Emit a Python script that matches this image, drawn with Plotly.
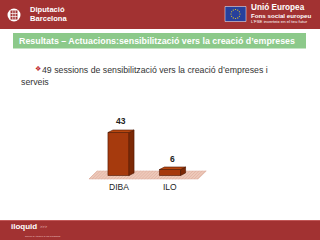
import math
import plotly.graph_objects as go

# ---- data ----
categories = ["DIBA", "ILO"]
values = [43, 6]
value_labels = ["43", "6"]

title_text = "Resultats – Actuacions:sensibilització vers la creació d’empreses"
bullet_line1 = "49 sessions de sensibilització vers la creació d’empreses i"
bullet_line2 = "serveis"

# ---- style ----
W, H = 320, 240
RED = "#A23232"
GREEN = "#8CC98A"
FRONT = "#A63A0D"
SIDE = "#7C2906"
TOP = "#B8470F"
EDGE = "#4E1500"
FONT = "Arial, 'Liberation Sans', sans-serif"

BAR_W = 0.41
DX, DY = 0.097, 2.5


def px(x):
    return x / W


def py(y):
    return 1 - y / H


fig = go.Figure()
xs = list(range(len(categories)))

# front faces
fig.add_trace(go.Bar(x=xs, y=values, width=BAR_W, marker=dict(color=FRONT, line=dict(color=EDGE, width=0.6)),
                     hoverinfo="skip", showlegend=False))

# side and top faces (3D look) computed from data
sx, sy, tx, ty = [], [], [], []
for i, v in zip(xs, values):
    r = i + BAR_W / 2
    l = i - BAR_W / 2
    sx += [r, r + DX, r + DX, r, r, None]
    sy += [0, DY, v + DY, v, 0, None]
    tx += [l, l + DX, r + DX, r, l, None]
    ty += [v, v + DY, v + DY, v, v, None]
fig.add_trace(go.Scatter(x=sx, y=sy, fill="toself", fillcolor=SIDE, mode="lines",
                         line=dict(color=EDGE, width=0.6), hoverinfo="skip", showlegend=False))
fig.add_trace(go.Scatter(x=tx, y=ty, fill="toself", fillcolor=TOP, mode="lines",
                         line=dict(color=EDGE, width=0.6), hoverinfo="skip", showlegend=False))

shapes = []
annotations = []

# floor (behind bars)
fl, fr = xs[0] - 0.573, xs[-1] + 0.544
fshift = 0.16
shapes.append(dict(type="path", xref="x", yref="y", layer="below",
                   path=f"M {fl},-3.5 L {fr},-3.5 L {fr + fshift},4.5 L {fl + fshift},4.5 Z",
                   fillcolor="#EDC9BA", line=dict(color="#D9A898", width=0.5)))
# hatch lines on floor
k = fl
while k < fr:
    shapes.append(dict(type="line", xref="x", yref="y", layer="below",
                       x0=k, y0=-3.5, x1=k + fshift, y1=4.5, line=dict(color="#DDAA98", width=0.6)))
    k += 0.06

# value labels and category labels
for i, v, lab, cat in zip(xs, values, value_labels, categories):
    annotations.append(dict(x=i + DX / 2, y=v + DY + 8.5, xref="x", yref="y", text=f"<b>{lab}</b>",
                            showarrow=False, font=dict(family=FONT, size=8.5, color="#222")))
    annotations.append(dict(x=i, y=-11.5, xref="x", yref="y", text=cat,
                            showarrow=False, font=dict(family=FONT, size=8.5, color="#222")))

# header
shapes.append(dict(type="rect", xref="paper", yref="paper", x0=0, x1=1, y0=py(29), y1=1,
                   fillcolor=RED, line=dict(width=0), layer="below"))
shapes.append(dict(type="circle", xref="paper", yref="paper", x0=px(7.5), x1=px(20.5), y0=py(21.5), y1=py(8.5),
                   fillcolor="white", line=dict(width=0)))
shapes.append(dict(type="rect", xref="paper", yref="paper", x0=px(10.5), x1=px(17.5), y0=py(19.5), y1=py(10.5),
                   fillcolor=RED, line=dict(width=0)))
for gx in (12.8, 15.2):
    shapes.append(dict(type="line", xref="paper", yref="paper", x0=px(gx), x1=px(gx), y0=py(19.5), y1=py(10.5),
                       line=dict(color="white", width=0.7)))
for gy in (13.5, 16.5):
    shapes.append(dict(type="line", xref="paper", yref="paper", x0=px(10.5), x1=px(17.5), y0=py(gy), y1=py(gy),
                       line=dict(color="white", width=0.7)))
annotations.append(dict(x=px(28), y=py(10), xref="paper", yref="paper", xanchor="left", yanchor="middle",
                        text="<b>Diputació</b>", showarrow=False, font=dict(family=FONT, size=7.6, color="white")))
annotations.append(dict(x=px(28), y=py(19), xref="paper", yref="paper", xanchor="left", yanchor="middle",
                        text="<b>Barcelona</b>", showarrow=False, font=dict(family=FONT, size=7.6, color="white")))

# EU flag
shapes.append(dict(type="rect", xref="paper", yref="paper", x0=px(225), x1=px(246), y0=py(21.5), y1=py(6.5),
                   fillcolor="#27409C", line=dict(color="white", width=0.5)))
cx, cy, rr = 235.5, 14, 4.5
for s in range(12):
    a = 2 * math.pi * s / 12
    sxp, syp = cx + rr * math.cos(a), cy + rr * math.sin(a)
    shapes.append(dict(type="circle", xref="paper", yref="paper", x0=px(sxp - 0.6), x1=px(sxp + 0.6),
                       y0=py(syp + 0.6), y1=py(syp - 0.6), fillcolor="#F4D21E", line=dict(width=0)))
annotations.append(dict(x=px(249), y=py(8), xref="paper", yref="paper", xanchor="left", yanchor="middle",
                        text="<b>Unió Europea</b>", showarrow=False, font=dict(family=FONT, size=8.2, color="white")))
annotations.append(dict(x=px(249), y=py(16), xref="paper", yref="paper", xanchor="left", yanchor="middle",
                        text="<b>Fons social europeu</b>", showarrow=False, font=dict(family=FONT, size=6.2, color="white")))
annotations.append(dict(x=px(249), y=py(21.5), xref="paper", yref="paper", xanchor="left", yanchor="middle",
                        text="L’FSE inverteix en el teu futur", showarrow=False, font=dict(family=FONT, size=4.3, color="white")))

# green title box
shapes.append(dict(type="rect", xref="paper", yref="paper", x0=px(13), x1=px(306), y0=py(48.5), y1=py(33),
                   fillcolor=GREEN, line=dict(width=0), layer="below"))
annotations.append(dict(x=px(17), y=py(41), xref="paper", yref="paper", xanchor="left", yanchor="middle",
                        text=f"<b>{title_text}</b>", showarrow=False, font=dict(family=FONT, size=8.85, color="white")))

# bullet text
annotations.append(dict(x=px(33), y=py(69), xref="paper", yref="paper", xanchor="left", yanchor="middle",
                        text="❖", showarrow=False, font=dict(family="DejaVu Sans", size=7, color="#C0282D")))
annotations.append(dict(x=px(40), y=py(69.5), xref="paper", yref="paper", xanchor="left", yanchor="middle",
                        text=bullet_line1, showarrow=False, font=dict(family=FONT, size=8.75, color="#333")))
annotations.append(dict(x=px(19), y=py(81.5), xref="paper", yref="paper", xanchor="left", yanchor="middle",
                        text=bullet_line2, showarrow=False, font=dict(family=FONT, size=8.75, color="#333")))

# footer
shapes.append(dict(type="rect", xref="paper", yref="paper", x0=0, x1=1, y0=0, y1=py(220),
                   fillcolor=RED, line=dict(width=0), layer="below"))
shapes.append(dict(type="line", xref="paper", yref="paper", x0=0, x1=1, y0=py(220.5), y1=py(220.5),
                   line=dict(color="#C25858", width=1)))
annotations.append(dict(x=px(9), y=py(226), xref="paper", yref="paper", xanchor="left", yanchor="middle",
                        text="<b>iloquid</b>", showarrow=False, font=dict(family=FONT, size=8, color="white")))
annotations.append(dict(x=px(38), y=py(226), xref="paper", yref="paper", xanchor="left", yanchor="middle",
                        text="&gt;&gt;&gt;", showarrow=False, font=dict(family=FONT, size=4, color="#F0C8C8")))
annotations.append(dict(x=px(23), y=py(236), xref="paper", yref="paper", xanchor="left", yanchor="middle",
                        text="Servei d’Atenció a les Persones", showarrow=False, font=dict(family=FONT, size=2.5, color="#F0D0D0")))

fig.update_layout(
    width=W, height=H, margin=dict(l=0, r=0, t=0, b=0),
    paper_bgcolor="white", plot_bgcolor="rgba(0,0,0,0)",
    shapes=shapes, annotations=annotations, showlegend=False,
    xaxis=dict(domain=[px(80), px(220)], range=[(80 - 118.5) / 51.5, (220 - 118.5) / 51.5], visible=False,
               fixedrange=True),
    yaxis=dict(domain=[py(200), py(110)], range=[-24.5, 65.5], visible=False, fixedrange=True),
)

fig.write_html("out.html")
